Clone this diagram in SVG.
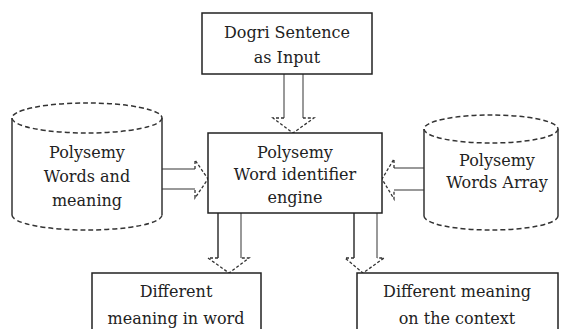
<svg xmlns="http://www.w3.org/2000/svg" width="565" height="329" viewBox="0 0 565 329">
<style>
.box{fill:#fff;stroke:#222;stroke-width:1.5}
.t{font-family:"DejaVu Serif","Liberation Serif",serif;font-size:16px;fill:#222;text-anchor:middle}
.side{stroke:#333;stroke-width:1.5;fill:none}
.ell{fill:none;stroke:#333;stroke-width:1.5;stroke-dasharray:5,3}
.sh{stroke:#777;stroke-width:1.5;fill:none}
.sd{stroke:#333;stroke-width:1.5;fill:none}
.hd{fill:none;stroke:#333;stroke-width:1.3;stroke-dasharray:3,2}
</style>
<rect width="565" height="329" fill="#fff"/>
<g id="connectors">
<line class="sh" x1="284" y1="74" x2="284" y2="118"/>
<line class="sh" x1="303" y1="74" x2="303" y2="118"/>
<polyline class="hd" points="284,118 273,118 293,133 314,118 303,118"/>
<line class="sh" x1="162" y1="169" x2="195" y2="169"/>
<line class="sh" x1="162" y1="189" x2="195" y2="189"/>
<polyline class="hd" points="195,169 195,160 208,179 195,198 195,189"/>
<line class="sh" x1="424" y1="168" x2="394" y2="168"/>
<line class="sh" x1="424" y1="190" x2="394" y2="190"/>
<polyline class="hd" points="394,168 394,159 382,179 394,199 394,190"/>
<line class="sd" x1="218" y1="213" x2="218" y2="258"/>
<line class="sh" x1="241" y1="213" x2="241" y2="258"/>
<polyline class="hd" points="218,258 208,258 229,273 249,258 241,258"/>
<line class="sd" x1="354" y1="213" x2="354" y2="258"/>
<line class="sh" x1="377" y1="213" x2="377" y2="258"/>
<polyline class="hd" points="354,258 345,258 363,273 384,258 377,258"/>
</g>
<g id="input">
<rect class="box" x="202" y="13" width="170" height="61"/>
<text class="t" x="287" y="38">Dogri Sentence</text>
<text class="t" x="287" y="63">as Input</text>
</g>
<g id="engine">
<rect class="box" x="208" y="133" width="174" height="80"/>
<text class="t" x="295" y="158">Polysemy</text>
<text class="t" x="295" y="180">Word identifier</text>
<text class="t" x="295" y="203">engine</text>
</g>
<g id="wordsMeaning">
<line class="side" x1="12" y1="118" x2="12" y2="215"/>
<line class="side" x1="162" y1="118" x2="162" y2="215"/>
<ellipse class="ell" cx="87" cy="118" rx="75" ry="15"/>
<path class="ell" d="M12,215 A75,15 0 0 0 162,215"/>
<text class="t" x="87" y="158">Polysemy</text>
<text class="t" x="87" y="182">Words and</text>
<text class="t" x="87" y="206">meaning</text>
</g>
<g id="wordsArray">
<line class="side" x1="424" y1="129" x2="424" y2="216"/>
<line class="side" x1="558" y1="129" x2="558" y2="216"/>
<ellipse class="ell" cx="491" cy="129" rx="67" ry="14"/>
<path class="ell" d="M424,216 A67,14 0 0 0 558,216"/>
<text class="t" x="497" y="166">Polysemy</text>
<text class="t" x="497" y="188">Words Array</text>
</g>
<g id="meaningWord">
<rect class="box" x="92" y="273" width="169" height="70"/>
<text class="t" x="176" y="297">Different</text>
<text class="t" x="176" y="324">meaning in word</text>
</g>
<g id="meaningContext">
<rect class="box" x="357" y="273" width="201" height="70"/>
<text class="t" x="457" y="297">Different meaning</text>
<text class="t" x="457" y="324">on the context</text>
</g>
</svg>
